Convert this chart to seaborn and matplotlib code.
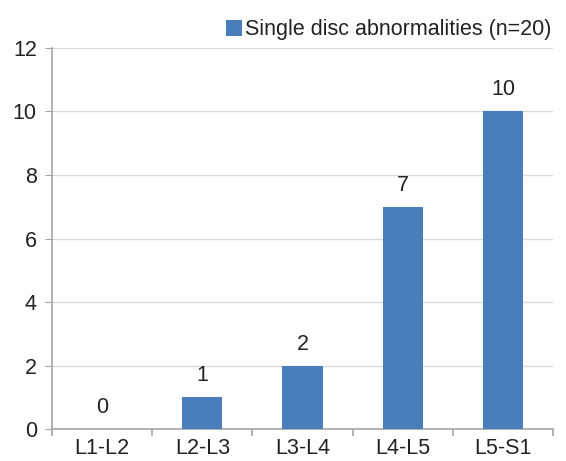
import matplotlib
matplotlib.use("Agg")
import matplotlib.pyplot as plt
import seaborn as sns
import pandas as pd

# --- Data ---
levels = ["L1-L2", "L2-L3", "L3-L4", "L4-L5", "L5-S1"]
counts = [0, 1, 2, 7, 10]
series_name = "Single disc abnormalities (n=20)"
y_ticks = [0, 2, 4, 6, 8, 10, 12]

BAR_COLOR = "#4a7ebb"
FS = 15.5

sns.set_style("white")
plt.rcParams['font.family'] = ['Liberation Sans', 'DejaVu Sans']

df = pd.DataFrame({"level": levels, "count": counts})

fig = plt.figure(figsize=(5.66, 4.61), dpi=100)
ax = fig.add_axes([0.092, 0.069, 0.885, 0.827])

sns.barplot(data=df, x="level", y="count", color=BAR_COLOR, width=0.4,
            saturation=1, linewidth=0, ax=ax, label=series_name, zorder=3)

# value labels above bars
for i, v in enumerate(counts):
    ax.annotate(str(v), (i, v), xytext=(0, 8), textcoords="offset points",
                ha="center", va="bottom", fontsize=FS, color="#222222")

ax.set_ylim(0, 12)
ax.set_xlim(-0.5, len(levels) - 0.5)
ax.set_yticks(y_ticks)
ax.yaxis.grid(True, color="#d9d9d9", linewidth=1, zorder=0)
ax.set_xlabel("")
ax.set_ylabel("")

for side in ["top", "right"]:
    ax.spines[side].set_visible(False)
for side in ["left", "bottom"]:
    ax.spines[side].set_color("#a6a6a6")
    ax.spines[side].set_linewidth(1.2)

ax.tick_params(axis="y", left=True, length=5, color="#a6a6a6", labelsize=FS,
               labelcolor="#222222", pad=6)
ax.tick_params(axis="x", which="major", length=0, labelsize=FS,
               labelcolor="#222222", pad=6)
ax.set_xticks([i - 0.5 for i in range(len(levels) + 1)], minor=True)
ax.tick_params(axis="x", which="minor", bottom=True, length=5, color="#a6a6a6", width=1.2)

leg = ax.legend(loc="lower right", bbox_to_anchor=(1.01, 1.003), frameon=False,
                fontsize=FS, handlelength=0.75, handleheight=0.75, handletextpad=0.15,
                borderaxespad=0.1, borderpad=0.2, labelcolor="#222222")

fig.savefig("out.png", dpi=100)
